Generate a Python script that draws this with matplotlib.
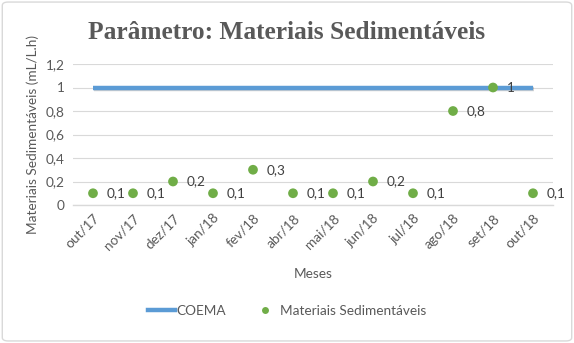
import matplotlib
matplotlib.use("Agg")
import matplotlib.pyplot as plt
from matplotlib.patches import FancyBboxPatch
from matplotlib.lines import Line2D
import matplotlib.patheffects as pe

meses = ["out/17", "nov/17", "dez/17", "jan/18", "fev/18", "abr/18",
         "mai/18", "jun/18", "jul/18", "ago/18", "set/18", "out/18"]
materiais = [0.1, 0.1, 0.2, 0.1, 0.3, 0.1, 0.1, 0.2, 0.1, 0.8, 1.0, 0.1]
coema = [1.0] * len(meses)
yticks = [0, 0.2, 0.4, 0.6, 0.8, 1.0, 1.2]

GRAY = "#595959"
GREEN = "#70AD47"
BLUE = "#5B9BD5"
SANS = ["Lato", "DejaVu Sans"]

def fmt(v):
    s = f"{v:g}"
    return s.replace(".", ",")

fig = plt.figure(figsize=(5.74, 3.43), dpi=100)
fig.patches.append(FancyBboxPatch((0.004, 0.006), 0.992, 0.988,
                                  boxstyle="round,pad=0,rounding_size=0.01",
                                  transform=fig.transFigure, fill=False,
                                  edgecolor="#D9D9D9", linewidth=1.0))

ax = fig.add_axes([73 / 574, 138 / 343, 480 / 574, 141 / 343])
x = list(range(len(meses)))

shadow = [pe.SimpleLineShadow(offset=(0.8, -1.2), shadow_color="#000000", alpha=0.18, rho=0.3),
          pe.Normal()]

ax.plot(x, coema, color=BLUE, linewidth=3.2, solid_capstyle="butt",
        path_effects=shadow, zorder=3)
ax.plot(x, materiais, linestyle="none", marker="o", markersize=7,
        color=GREEN, markeredgewidth=0,
        path_effects=shadow, zorder=4)

for xi, v in zip(x, materiais):
    ax.annotate(fmt(v), (xi, v), xytext=(10, 0), textcoords="offset points",
                va="center", ha="left", fontsize=9.8, color="#404040",
                family=SANS)

ax.set_xlim(-0.5, len(meses) - 0.5)
ax.set_ylim(0, 1.2)
ax.set_yticks(yticks)
ax.set_yticklabels([fmt(v) for v in yticks], family=SANS, fontsize=9.8, color=GRAY)
ax.set_xticks(x)
ax.set_xticklabels(meses, rotation=45, ha="right", rotation_mode="anchor",
                   family=SANS, fontsize=9.8, color=GRAY)
ax.tick_params(axis="both", length=0, pad=6)
ax.tick_params(axis="x", pad=5)
ax.grid(axis="y", color="#D9D9D9", linewidth=0.8)
ax.set_axisbelow(True)
for side in ["top", "right", "left"]:
    ax.spines[side].set_visible(False)
ax.spines["bottom"].set_color("#D9D9D9")
ax.spines["bottom"].set_linewidth(1.0)

ax.set_ylabel("Materiais Sedimentáveis (mL/L.h)", family=SANS, fontsize=9.8,
              color=GRAY, labelpad=5)
ax.set_xlabel("Meses", family=SANS, fontsize=9.8, color=GRAY, labelpad=12)

fig.text(0.5, 0.905, "Parâmetro: Materiais Sedimentáveis", ha="center",
         va="center", family=["Liberation Serif", "DejaVu Serif"],
         fontweight="bold", fontsize=18.3, color=GRAY)

handles = [Line2D([], [], color=BLUE, linewidth=3.2),
           Line2D([], [], linestyle="none", marker="o", markersize=5,
                  color=GREEN, markeredgewidth=0)]
leg = fig.legend(handles, ["COEMA", "Materiais Sedimentáveis"],
                 loc="center", bbox_to_anchor=(0.5, 32 / 343), ncol=2,
                 frameon=False, prop={"family": SANS, "size": 9.8},
                 handlelength=2.0, handletextpad=0.15, columnspacing=1.8,
                 labelcolor=GRAY)

fig.savefig("out.png", dpi=100)
